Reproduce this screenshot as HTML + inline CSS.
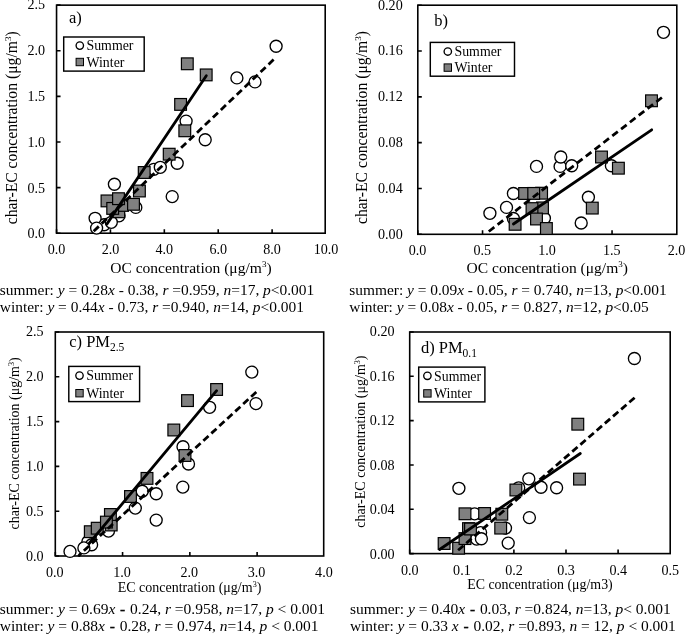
<!DOCTYPE html>
<html lang="en"><head><meta charset="utf-8"><title>char-EC vs OC and EC concentration</title>
<style>html,body{margin:0;padding:0;background:#fff}svg{display:block}text{font-family:"Liberation Serif", "Times New Roman", serif;fill:#000}.i{font-style:italic}</style></head><body>
<svg width="685" height="635" viewBox="0 0 685 635">
<rect x="0" y="0" width="685" height="635" fill="#fff"/>
<g id="panel-a">
<rect x="56.55" y="5.15" width="268.65" height="228.05" fill="#fff" stroke="#000" stroke-width="1.6"/>
<path d="M56.55 233.2V229.2M110.44 233.2V229.2M164.33 233.2V229.2M218.22 233.2V229.2M272.11 233.2V229.2M56.55 233.2H60.55M56.55 187.59H60.55M56.55 141.98H60.55M56.55 96.37H60.55M56.55 50.76H60.55M56.55 5.15H60.55" stroke="#000" stroke-width="1.6" fill="none"/>
<g font-size="14.1" text-anchor="middle">
<text x="56.55" y="253.8">0.0</text>
<text x="110.44" y="253.8">2.0</text>
<text x="164.33" y="253.8">4.0</text>
<text x="218.22" y="253.8">6.0</text>
<text x="272.11" y="253.8">8.0</text>
<text x="326" y="253.8">10.0</text>
</g>
<g font-size="14.1" text-anchor="end">
<text x="45.05" y="238.4">0.0</text>
<text x="45.05" y="192.57">0.5</text>
<text x="45.05" y="146.74">1.0</text>
<text x="45.05" y="100.91">1.5</text>
<text x="45.05" y="55.08">2.0</text>
<text x="45.05" y="9.25">2.5</text>
</g>
<text x="190.88" y="272.7" font-size="15.55" text-anchor="middle">OC concentration (μg/m<tspan font-size="9.0" dy="-5.6">3</tspan><tspan dy="5.6">)</tspan></text>
<text transform="translate(16.65 127.77) rotate(-90)" font-size="15.7" text-anchor="middle">char-EC concentration (μg/m<tspan font-size="9.1" dy="-5.7">3</tspan><tspan dy="5.7">)</tspan></text>
<text x="69" y="22.7" font-size="16.5">a)</text>
<g fill="#fff" stroke="#000" stroke-width="1.35">
<circle cx="119" cy="215.8" r="6.0"/>
<circle cx="104.1" cy="224.7" r="6.0"/>
<circle cx="111.3" cy="222.3" r="6.0"/>
<circle cx="95.1" cy="218.3" r="6.0"/>
<circle cx="96.6" cy="228.1" r="6.0"/>
<circle cx="114.4" cy="184.2" r="6.0"/>
<circle cx="135.8" cy="207.4" r="6.0"/>
<circle cx="153.9" cy="169.3" r="6.0"/>
<circle cx="160.3" cy="167.3" r="6.0"/>
<circle cx="177.2" cy="163.2" r="6.0"/>
<circle cx="172.2" cy="196.6" r="6.0"/>
<circle cx="186.1" cy="121.1" r="6.0"/>
<circle cx="205.2" cy="139.7" r="6.0"/>
<circle cx="236.9" cy="77.9" r="6.0"/>
<circle cx="255" cy="81.9" r="6.0"/>
<circle cx="276.1" cy="46.2" r="6.0"/>
</g>
<g fill="#808080" stroke="#000" stroke-width="1.2">
<rect x="101.12" y="195.03" width="11.75" height="11.75"/>
<rect x="112.92" y="205.93" width="11.75" height="11.75"/>
<rect x="116.72" y="199.53" width="11.75" height="11.75"/>
<rect x="106.83" y="202.53" width="11.75" height="11.75"/>
<rect x="112.62" y="192.82" width="11.75" height="11.75"/>
<rect x="127.62" y="198.43" width="11.75" height="11.75"/>
<rect x="133.53" y="185.12" width="11.75" height="11.75"/>
<rect x="138.32" y="166.62" width="11.75" height="11.75"/>
<rect x="163.32" y="148.32" width="11.75" height="11.75"/>
<rect x="178.93" y="124.93" width="11.75" height="11.75"/>
<rect x="174.72" y="98.53" width="11.75" height="11.75"/>
<rect x="181.43" y="57.92" width="11.75" height="11.75"/>
<rect x="200.32" y="69.03" width="11.75" height="11.75"/>
</g>
<line x1="107" y1="223.9" x2="206.3" y2="75.7" stroke="#000" stroke-width="2.8" stroke-linecap="round"/>
<line x1="93.7" y1="231.2" x2="273.6" y2="59.6" stroke="#000" stroke-width="2.8" stroke-dasharray="7 3.983"/>
<rect x="63.7" y="37" width="80.5" height="34.1" fill="#fff" stroke="#000" stroke-width="1.45"/>
<circle cx="79.8" cy="45.6" r="3.7" fill="#fff" stroke="#000" stroke-width="1.35"/>
<rect x="76.1" y="58.3" width="7.4" height="7.4" fill="#808080" stroke="#000" stroke-width="1.0"/>
<text x="86.5" y="50.3" font-size="13.85">Summer</text>
<text x="86.5" y="66.7" font-size="13.85">Winter</text>
<text x="-0.2" y="294.8" font-size="15.45" style="white-space:pre">summer: <tspan class="i">y</tspan> = 0.28<tspan class="i">x</tspan> - 0.38, <tspan class="i">r</tspan> =0.959, <tspan class="i">n</tspan>=17, <tspan class="i">p</tspan>&lt;0.001</text>
<text x="-0.2" y="312.3" font-size="15.45" style="white-space:pre">winter: <tspan class="i">y</tspan> = 0.44<tspan class="i">x</tspan> - 0.73, <tspan class="i">r</tspan> =0.940, <tspan class="i">n</tspan>=14, <tspan class="i">p</tspan>&lt;0.001</text>
</g>
<g id="panel-b">
<rect x="417.8" y="5.2" width="259" height="229.1" fill="#fff" stroke="#000" stroke-width="1.6"/>
<path d="M417.8 234.3V230.3M482.55 234.3V230.3M547.3 234.3V230.3M612.05 234.3V230.3M417.8 234.3H421.8M417.8 188.48H421.8M417.8 142.66H421.8M417.8 96.84H421.8M417.8 51.02H421.8M417.8 5.2H421.8" stroke="#000" stroke-width="1.6" fill="none"/>
<g font-size="14.1" text-anchor="middle">
<text x="417.6" y="254.8">0.0</text>
<text x="482.35" y="254.8">0.5</text>
<text x="547.1" y="254.8">1.0</text>
<text x="611.85" y="254.8">1.5</text>
<text x="676.6" y="254.8">2.0</text>
</g>
<g font-size="14.1" text-anchor="end">
<text x="402.7" y="238.5">0.00</text>
<text x="402.7" y="192.7">0.04</text>
<text x="402.7" y="146.9">0.08</text>
<text x="402.7" y="101.1">0.12</text>
<text x="402.7" y="55.3">0.16</text>
<text x="402.7" y="9.5">0.20</text>
</g>
<text x="547.3" y="272.5" font-size="15.55" text-anchor="middle">OC concentration (μg/m<tspan font-size="9.0" dy="-5.6">3</tspan><tspan dy="5.6">)</tspan></text>
<text transform="translate(366.9 127.45) rotate(-90)" font-size="15.7" text-anchor="middle">char-EC concentration (μg/m<tspan font-size="9.1" dy="-5.7">3</tspan><tspan dy="5.7">)</tspan></text>
<text x="434.2" y="26" font-size="16.5">b)</text>
<g fill="#fff" stroke="#000" stroke-width="1.35">
<circle cx="489.9" cy="213.3" r="6.0"/>
<circle cx="506.5" cy="207.4" r="6.0"/>
<circle cx="513.4" cy="193.5" r="6.0"/>
<circle cx="513.4" cy="218.5" r="6.0"/>
<circle cx="536.5" cy="166.4" r="6.0"/>
<circle cx="560.1" cy="166.4" r="6.0"/>
<circle cx="560.8" cy="157" r="6.0"/>
<circle cx="571.7" cy="165.7" r="6.0"/>
<circle cx="544.4" cy="218.3" r="6.0"/>
<circle cx="588.4" cy="197.2" r="6.0"/>
<circle cx="581.2" cy="223" r="6.0"/>
<circle cx="611.4" cy="165.7" r="6.0"/>
<circle cx="663.5" cy="32.3" r="6.0"/>
</g>
<g fill="#808080" stroke="#000" stroke-width="1.2">
<rect x="509.23" y="218.43" width="11.75" height="11.75"/>
<rect x="518.73" y="187.62" width="11.75" height="11.75"/>
<rect x="535.73" y="187.32" width="11.75" height="11.75"/>
<rect x="527.83" y="187.53" width="11.75" height="11.75"/>
<rect x="536.62" y="202.03" width="11.75" height="11.75"/>
<rect x="526.12" y="202.72" width="11.75" height="11.75"/>
<rect x="530.62" y="213.12" width="11.75" height="11.75"/>
<rect x="540.52" y="222.62" width="11.75" height="11.75"/>
<rect x="586.42" y="202.22" width="11.75" height="11.75"/>
<rect x="595.62" y="151.12" width="11.75" height="11.75"/>
<rect x="612.52" y="162.32" width="11.75" height="11.75"/>
<rect x="645.62" y="94.92" width="11.75" height="11.75"/>
</g>
<line x1="513.4" y1="224" x2="651.7" y2="129.8" stroke="#000" stroke-width="2.8" stroke-linecap="round"/>
<line x1="488.8" y1="231.5" x2="661.9" y2="97.5" stroke="#000" stroke-width="2.8" stroke-dasharray="7 4.153"/>
<rect x="430.3" y="42.4" width="84.2" height="33.8" fill="#fff" stroke="#000" stroke-width="1.45"/>
<circle cx="447.8" cy="51.5" r="3.7" fill="#fff" stroke="#000" stroke-width="1.35"/>
<rect x="444.1" y="63.9" width="7.4" height="7.4" fill="#808080" stroke="#000" stroke-width="1.0"/>
<text x="454.5" y="56.2" font-size="13.85">Summer</text>
<text x="454.5" y="72.3" font-size="13.85">Winter</text>
<text x="349.3" y="294.8" font-size="15.4" style="white-space:pre">summer: <tspan class="i">y</tspan> = 0.09<tspan class="i">x</tspan> - 0.05, <tspan class="i">r</tspan> = 0.740, <tspan class="i">n</tspan>=13, <tspan class="i">p</tspan>&lt;0.001</text>
<text x="349.3" y="312.3" font-size="15.4" style="white-space:pre">winter: <tspan class="i">y</tspan> = 0.08<tspan class="i">x</tspan> - 0.05, <tspan class="i">r</tspan> = 0.827, <tspan class="i">n</tspan>=12, <tspan class="i">p</tspan>&lt;0.05</text>
</g>
<g id="panel-c">
<rect x="55.3" y="332" width="268.4" height="224" fill="#fff" stroke="#000" stroke-width="1.6"/>
<path d="M55.3 556V552M122.57 556V552M189.85 556V552M257.12 556V552M55.3 556H59.3M55.3 511.2H59.3M55.3 466.4H59.3M55.3 421.6H59.3M55.3 376.8H59.3M55.3 332H59.3" stroke="#000" stroke-width="1.6" fill="none"/>
<g font-size="14.1" text-anchor="middle">
<text x="54.8" y="576.6">0.0</text>
<text x="122.07" y="576.6">1.0</text>
<text x="189.35" y="576.6">2.0</text>
<text x="256.62" y="576.6">3.0</text>
<text x="323.9" y="576.6">4.0</text>
</g>
<g font-size="14.1" text-anchor="end">
<text x="43.5" y="561.2">0.0</text>
<text x="43.5" y="516.16">0.5</text>
<text x="43.5" y="471.12">1.0</text>
<text x="43.5" y="426.08">1.5</text>
<text x="43.5" y="381.04">2.0</text>
<text x="43.5" y="336">2.5</text>
</g>
<text x="189.5" y="592.4" font-size="14.0" text-anchor="middle">EC concentration (μg/m<tspan font-size="8.1" dy="-5.0">3</tspan><tspan dy="5.0">)</tspan></text>
<text transform="translate(19.3 443.4) rotate(-90)" font-size="14.0" text-anchor="middle">char-EC concentration (μg/m<tspan font-size="8.1" dy="-5.0">3</tspan><tspan dy="5.0">)</tspan></text>
<text x="69.2" y="347" font-size="16.5">c) PM<tspan font-size="11.5" dy="4.3">2.5</tspan></text>
<g fill="#fff" stroke="#000" stroke-width="1.35">
<circle cx="70" cy="551.4" r="6.0"/>
<circle cx="87.9" cy="541.8" r="6.0"/>
<circle cx="91.6" cy="544.7" r="6.0"/>
<circle cx="108.5" cy="531.1" r="6.0"/>
<circle cx="135.3" cy="508.1" r="6.0"/>
<circle cx="142.2" cy="491.2" r="6.0"/>
<circle cx="156.2" cy="493.7" r="6.0"/>
<circle cx="156.2" cy="520.1" r="6.0"/>
<circle cx="182.8" cy="487.1" r="6.0"/>
<circle cx="183" cy="446.7" r="6.0"/>
<circle cx="188.5" cy="464" r="6.0"/>
<circle cx="209.6" cy="407.3" r="6.0"/>
<circle cx="251.8" cy="372.1" r="6.0"/>
<circle cx="256" cy="403.6" r="6.0"/>
</g>
<g fill="#808080" stroke="#000" stroke-width="1.2">
<rect x="84.42" y="525.83" width="11.75" height="11.75"/>
<rect x="91.33" y="522.33" width="11.75" height="11.75"/>
<rect x="105.33" y="519.12" width="11.75" height="11.75"/>
<rect x="104.53" y="508.62" width="11.75" height="11.75"/>
<rect x="100.53" y="516.23" width="11.75" height="11.75"/>
<rect x="124.62" y="490.62" width="11.75" height="11.75"/>
<rect x="141.12" y="472.52" width="11.75" height="11.75"/>
<rect x="167.93" y="424.12" width="11.75" height="11.75"/>
<rect x="179.12" y="449.62" width="11.75" height="11.75"/>
<rect x="181.62" y="394.73" width="11.75" height="11.75"/>
<rect x="210.72" y="383.62" width="11.75" height="11.75"/>
</g>
<line x1="79.1" y1="555.5" x2="216.6" y2="390.7" stroke="#000" stroke-width="2.8" stroke-linecap="round"/>
<circle cx="83.9" cy="547.9" r="6.0" fill="#fff" stroke="#000" stroke-width="1.35"/>
<line x1="83.9" y1="550.7" x2="256.3" y2="392" stroke="#000" stroke-width="2.8" stroke-dasharray="7 3.825"/>
<rect x="68.8" y="366.4" width="70.8" height="35.2" fill="#fff" stroke="#000" stroke-width="1.45"/>
<circle cx="79.5" cy="375.6" r="3.7" fill="#fff" stroke="#000" stroke-width="1.35"/>
<rect x="75.8" y="389.5" width="7.4" height="7.4" fill="#808080" stroke="#000" stroke-width="1.0"/>
<text x="86.2" y="380.3" font-size="13.85">Summer</text>
<text x="86.2" y="397.9" font-size="13.85">Winter</text>
<text x="-0.2" y="613.8" font-size="15.5" style="white-space:pre">summer: <tspan class="i">y</tspan> = 0.69<tspan class="i">x</tspan> <tspan dx="0.9" stroke="#000" stroke-width="0.35">-</tspan><tspan dx="0.9"> 0.24, </tspan><tspan class="i">r</tspan> =0.958, <tspan class="i">n</tspan>=17, <tspan class="i">p</tspan> &lt; 0.001</text>
<text x="-0.2" y="631" font-size="15.5" style="white-space:pre">winter: <tspan class="i">y</tspan> = 0.88<tspan class="i">x</tspan> <tspan dx="0.9" stroke="#000" stroke-width="0.35">-</tspan><tspan dx="0.9"> 0.28, </tspan><tspan class="i">r</tspan> = 0.974, <tspan class="i">n</tspan>=14, <tspan class="i">p</tspan> &lt; 0.001</text>
</g>
<g id="panel-d">
<rect x="409.7" y="332" width="260.5" height="221.6" fill="#fff" stroke="#000" stroke-width="1.6"/>
<path d="M409.7 553.6V549.6M461.8 553.6V549.6M513.9 553.6V549.6M566 553.6V549.6M618.1 553.6V549.6M409.7 553.6H413.7M409.7 509.28H413.7M409.7 464.96H413.7M409.7 420.64H413.7M409.7 376.32H413.7M409.7 332H413.7" stroke="#000" stroke-width="1.6" fill="none"/>
<g font-size="14.1" text-anchor="middle">
<text x="409.8" y="574.7">0.0</text>
<text x="461.9" y="574.7">0.1</text>
<text x="514" y="574.7">0.2</text>
<text x="566.1" y="574.7">0.3</text>
<text x="618.2" y="574.7">0.4</text>
<text x="670.3" y="574.7">0.5</text>
</g>
<g font-size="14.1" text-anchor="end">
<text x="394.5" y="558.85">0.00</text>
<text x="394.5" y="514.28">0.04</text>
<text x="394.5" y="469.71">0.08</text>
<text x="394.5" y="425.14">0.12</text>
<text x="394.5" y="380.57">0.16</text>
<text x="394.5" y="336">0.20</text>
</g>
<text x="539.95" y="588.7" font-size="13.9" text-anchor="middle">EC concentration (μg/m3)</text>
<text transform="translate(365.4 441.6) rotate(-90)" font-size="14.0" text-anchor="middle">char-EC concentration (μg/m<tspan font-size="8.1" dy="-5.0">3</tspan><tspan dy="5.0">)</tspan></text>
<text x="420.9" y="352.6" font-size="16.5">d) PM<tspan font-size="11.5" dy="4.3">0.1</tspan></text>
<g fill="#fff" stroke="#000" stroke-width="1.35">
<circle cx="458.9" cy="488.3" r="6.0"/>
<circle cx="474.6" cy="513.8" r="6.0"/>
<circle cx="480.6" cy="532.6" r="6.0"/>
<circle cx="476.6" cy="539.1" r="6.0"/>
<circle cx="481.4" cy="538.7" r="6.0"/>
<circle cx="508.2" cy="543.1" r="6.0"/>
<circle cx="505.5" cy="528.1" r="6.0"/>
<circle cx="529.4" cy="517.6" r="6.0"/>
<circle cx="518.7" cy="487.8" r="6.0"/>
<circle cx="528.8" cy="478.8" r="6.0"/>
<circle cx="541" cy="487.2" r="6.0"/>
<circle cx="556.6" cy="487.7" r="6.0"/>
<circle cx="634.4" cy="358.5" r="6.0"/>
</g>
<g fill="#808080" stroke="#000" stroke-width="1.2">
<rect x="438.23" y="537.62" width="11.75" height="11.75"/>
<rect x="452.73" y="542.33" width="11.75" height="11.75"/>
<rect x="459.12" y="532.73" width="11.75" height="11.75"/>
<rect x="462.62" y="522.73" width="11.75" height="11.75"/>
<rect x="464.62" y="523.12" width="11.75" height="11.75"/>
<rect x="459.12" y="507.92" width="11.75" height="11.75"/>
<rect x="478.73" y="507.62" width="11.75" height="11.75"/>
<rect x="495.93" y="508.33" width="11.75" height="11.75"/>
<rect x="494.82" y="522.23" width="11.75" height="11.75"/>
<rect x="510.02" y="484.12" width="11.75" height="11.75"/>
<rect x="571.92" y="418.32" width="11.75" height="11.75"/>
<rect x="573.62" y="473.23" width="11.75" height="11.75"/>
</g>
<line x1="439.6" y1="549.5" x2="580.3" y2="453.5" stroke="#000" stroke-width="2.8" stroke-linecap="round"/>
<line x1="458.1" y1="550.3" x2="634.6" y2="397.7" stroke="#000" stroke-width="2.8" stroke-dasharray="7 3.777"/>
<rect x="418.7" y="367.1" width="66.2" height="34.8" fill="#fff" stroke="#000" stroke-width="1.45"/>
<circle cx="427.4" cy="375.8" r="3.7" fill="#fff" stroke="#000" stroke-width="1.35"/>
<rect x="423.7" y="389.7" width="7.4" height="7.4" fill="#808080" stroke="#000" stroke-width="1.0"/>
<text x="434.1" y="380.5" font-size="13.85">Summer</text>
<text x="434.1" y="398.1" font-size="13.85">Winter</text>
<text x="349.9" y="613.6" font-size="15.47" style="white-space:pre">summer: <tspan class="i">y</tspan> = 0.40<tspan class="i">x</tspan> <tspan dx="0.9" stroke="#000" stroke-width="0.35">-</tspan><tspan dx="0.9"> 0.03, </tspan><tspan class="i">r</tspan> =0.824, <tspan class="i">n</tspan>=13, <tspan class="i">p</tspan>&lt; 0.001</text>
<text x="349.9" y="630.9" font-size="15.47" style="white-space:pre">winter: <tspan class="i">y</tspan> = 0.33 <tspan class="i">x</tspan> <tspan dx="0.9" stroke="#000" stroke-width="0.35">-</tspan><tspan dx="0.9"> 0.02, </tspan><tspan class="i">r</tspan> =0.893, <tspan class="i">n</tspan> = 12, <tspan class="i">p</tspan> &lt; 0.001</text>
</g>
</svg></body></html>
